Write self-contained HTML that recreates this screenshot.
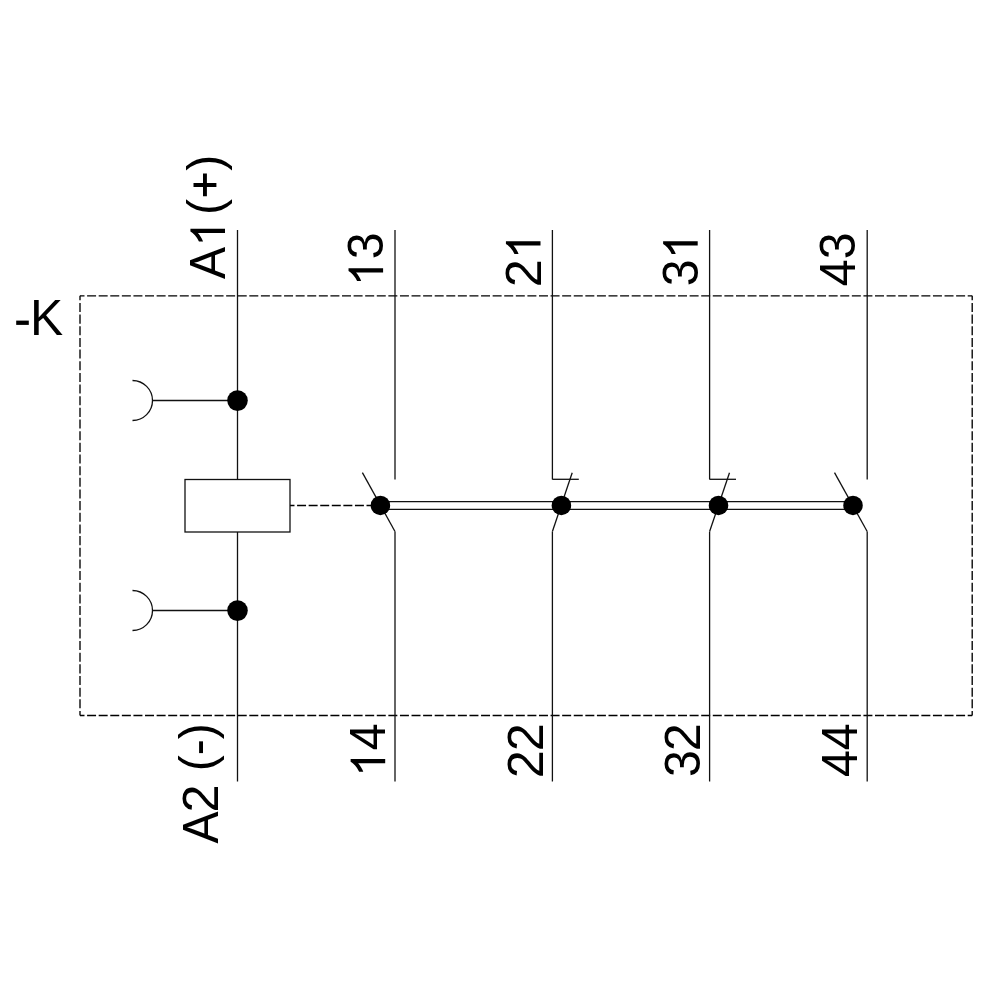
<!DOCTYPE html>
<html><head><meta charset="utf-8"><style>
html,body{margin:0;padding:0;background:#fff;width:1000px;height:1000px;overflow:hidden}
svg{display:block;font-family:"Liberation Sans", sans-serif}
</style></head><body>
<svg width="1000" height="1000" viewBox="0 0 1000 1000">
<rect width="1000" height="1000" fill="#fff"/>
<line x1="80.0" y1="295.8" x2="972.2" y2="295.8" stroke="#000" stroke-width="1.35" stroke-dasharray="8.987 2.600" stroke-dashoffset="4.494"/>

<line x1="80.0" y1="715.5" x2="972.2" y2="715.5" stroke="#000" stroke-width="1.35" stroke-dasharray="8.987 2.600" stroke-dashoffset="4.494"/>

<line x1="80.0" y1="295.8" x2="80.0" y2="715.5" stroke="#000" stroke-width="1.35" stroke-dasharray="9.058 2.600" stroke-dashoffset="4.529"/>

<line x1="972.2" y1="295.8" x2="972.2" y2="715.5" stroke="#000" stroke-width="1.35" stroke-dasharray="9.058 2.600" stroke-dashoffset="4.529"/>

<line x1="290.0" y1="505.5" x2="371.0" y2="505.5" stroke="#000" stroke-width="1.35" stroke-dasharray="8.971 2.600" stroke-dashoffset="4.486"/>

<g stroke="#111" stroke-width="1.3" fill="none"><line x1="237.5" y1="230.0" x2="237.5" y2="479.5"/><line x1="237.5" y1="532.0" x2="237.5" y2="781.5"/><rect x="185" y="479.5" width="105" height="52.5" fill="none"/><path d="M132.5 380.5 A20 20 0 0 1 132.5 420.5" fill="none"/><line x1="152.5" y1="400.5" x2="237.5" y2="400.5"/><path d="M132.5 590.5 A20 20 0 0 1 132.5 630.5" fill="none"/><line x1="152.5" y1="610.5" x2="237.5" y2="610.5"/><line x1="395.0" y1="230.0" x2="395.0" y2="479.5"/><line x1="395.0" y1="531.5" x2="395.0" y2="781.5"/><line x1="552.4" y1="230.0" x2="552.4" y2="479.5"/><line x1="552.4" y1="531.5" x2="552.4" y2="781.5"/><line x1="709.6" y1="230.0" x2="709.6" y2="479.5"/><line x1="709.6" y1="531.5" x2="709.6" y2="781.5"/><line x1="867.2" y1="230.0" x2="867.2" y2="479.5"/><line x1="867.2" y1="531.5" x2="867.2" y2="781.5"/><line x1="395.0" y1="531.5" x2="362.4" y2="472.6"/><line x1="867.2" y1="531.5" x2="834.5" y2="472.6"/><line x1="552.4" y1="531.5" x2="572.2" y2="472.8"/><line x1="552.4" y1="479.3" x2="578.8" y2="479.3"/><line x1="709.6" y1="531.5" x2="729.5" y2="472.8"/><line x1="709.6" y1="479.3" x2="736.0" y2="479.3"/><line x1="380.5" y1="501.6" x2="853.0" y2="501.6"/><line x1="380.5" y1="509.4" x2="853.0" y2="509.4"/></g>
<g fill="#000"><circle cx="237.5" cy="400.6" r="10.3"/><circle cx="237.5" cy="610.6" r="10.3"/><circle cx="380.4" cy="505.4" r="9.75"/><circle cx="561.4" cy="505.4" r="9.75"/><circle cx="718.5" cy="505.4" r="9.75"/><circle cx="853.0" cy="505.4" r="9.75"/></g>
<g font-family="Liberation Sans, sans-serif" font-size="48.3" fill="#000">
<rect x="16.2" y="320.6" width="12.6" height="4.3"/>
<text x="0" y="0" transform="translate(29.9,335) scale(1.03,1.042)">K</text>
<g transform="translate(225.00,279.00) rotate(-90)"><text x="0.00" y="0" transform="scale(1,1.042)">A</text><path transform="translate(32.22,0) scale(0.023584,-0.023584)" d="M763 0L583 0L583 1147Q518 1085 412 1024Q312 963 223 930L223 1104Q374 1175 487 1276Q600 1377 647 1466L763 1466Z"/></g>

<g transform="translate(222.00,215.10) rotate(-90)"><text x="0.00" y="0" transform="scale(1,1.042)">(</text></g>

<g transform="translate(222.00,170.81) rotate(-90)"><text x="0.00" y="0" transform="scale(1,1.042)">)</text></g>

<path d="M193.5 183.0H216.4V186.9H193.5ZM203.0 173.6H206.9V196.3H203.0Z"/>
<g transform="translate(218.00,843.60) rotate(-90)"><text x="0.00" y="0" transform="scale(1,1.042)">A</text><text x="0" y="0" transform="translate(31.08,0) scale(1.041,1.042)">2</text></g>

<g transform="translate(214.40,771.30) rotate(-90)"><text x="0.00" y="0" transform="scale(1,1.042)">(-)</text></g>

<g transform="translate(383.10,286.20) rotate(-90)"><path transform="translate(0.00,0) scale(0.023584,-0.023584)" d="M763 0L583 0L583 1147Q518 1085 412 1024Q312 963 223 930L223 1104Q374 1175 487 1276Q600 1377 647 1466L763 1466Z"/><text x="26.86" y="0" transform="scale(1,1.042)">3</text></g>

<g transform="translate(540.50,286.20) rotate(-90)"><text x="0" y="0" transform="translate(-1.14,0) scale(1.041,1.042)">2</text><path transform="translate(26.86,0) scale(0.023584,-0.023584)" d="M763 0L583 0L583 1147Q518 1085 412 1024Q312 963 223 930L223 1104Q374 1175 487 1276Q600 1377 647 1466L763 1466Z"/></g>

<g transform="translate(697.70,286.20) rotate(-90)"><text x="0.00" y="0" transform="scale(1,1.042)">3</text><path transform="translate(26.86,0) scale(0.023584,-0.023584)" d="M763 0L583 0L583 1147Q518 1085 412 1024Q312 963 223 930L223 1104Q374 1175 487 1276Q600 1377 647 1466L763 1466Z"/></g>

<g transform="translate(855.30,286.20) rotate(-90)"><text x="0.00" y="0" transform="scale(1,1.042)">43</text></g>

<g transform="translate(385.20,777.00) rotate(-90)"><path transform="translate(0.00,0) scale(0.023584,-0.023584)" d="M763 0L583 0L583 1147Q518 1085 412 1024Q312 963 223 930L223 1104Q374 1175 487 1276Q600 1377 647 1466L763 1466Z"/><text x="26.86" y="0" transform="scale(1,1.042)">4</text></g>

<g transform="translate(542.60,777.00) rotate(-90)"><text x="0" y="0" transform="translate(-1.14,0) scale(1.041,1.042)">2</text><text x="0" y="0" transform="translate(25.72,0) scale(1.041,1.042)">2</text></g>

<g transform="translate(699.80,777.00) rotate(-90)"><text x="0.00" y="0" transform="scale(1,1.042)">3</text><text x="0" y="0" transform="translate(25.72,0) scale(1.041,1.042)">2</text></g>

<g transform="translate(857.40,777.00) rotate(-90)"><text x="0.00" y="0" transform="scale(1,1.042)">44</text></g>

</g>
</svg>
</body></html>
